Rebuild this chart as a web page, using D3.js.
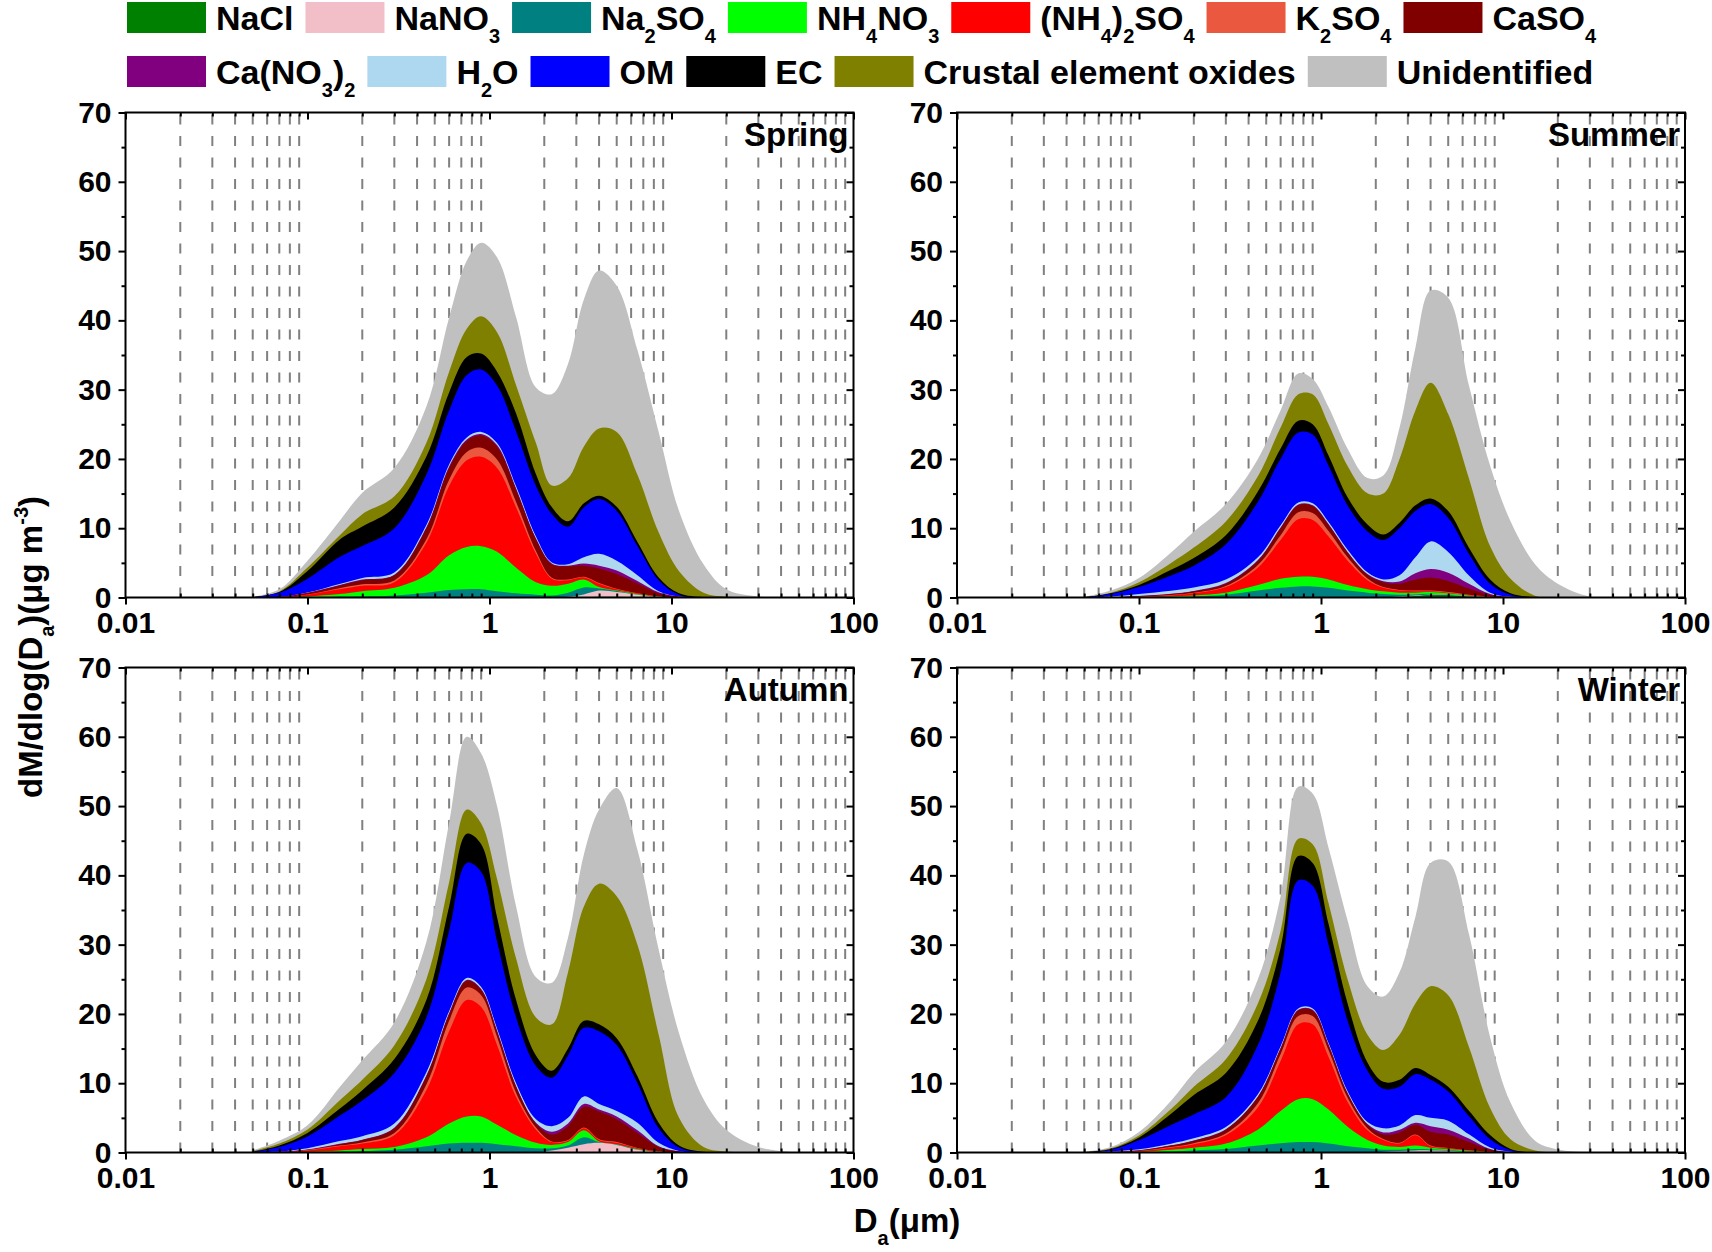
<!DOCTYPE html>
<html>
<head>
<meta charset="utf-8">
<script src="https://cdn.jsdelivr.net/npm/d3@7"></script>
<style>
  body { margin: 0; background: #fff; }
  svg { display: block; }
  text { font-family: "Liberation Sans", Arial, sans-serif; font-weight: bold; fill: #000; }
</style>
</head>
<body>
<svg id="chart" width="1712" height="1252"></svg>
<script>
// aerodynamic diameter (um) at which the stacked curves were read
const diam = [0.05, 0.07, 0.1, 0.15, 0.2, 0.3, 0.45, 0.6, 0.75, 0.9, 1.1, 1.4, 1.8, 2.2, 2.7, 3.3, 4.0, 5.0, 6.5, 8.5, 11, 15, 20, 30, 45];

// '_x' = subscript, '^x' = superscript
const species = ['NaCl', 'NaNO_3', 'Na_2SO_4', 'NH_4NO_3', '(NH_4)_2SO_4', 'K_2SO_4', 'CaSO_4',
                 'Ca(NO_3)_2', 'H_2O', 'OM', 'EC', 'Crustal element oxides', 'Unidentified'];
const colors = ['#008000', '#f2bfc8', '#008080', '#00ff00', '#ff0000', '#e9583f', '#800000',
                '#800080', '#add8f0', '#0000ff', '#000000', '#808000', '#c0c0c0'];

// dM/dlogDa (ug m-3) of each species, same order as `species`
const spring = [
  [0,0,0,0,0,0,0,0,0,0,0,0,0,0,0,0.05,0.1,0.1,0.05,0,0,0,0,0,0],
  [0,0,0,0,0,0,0,0,0,0,0,0,0,0,0.1,0.4,0.9,0.7,0.35,0.1,0,0,0,0,0],
  [0,0,0.02,0.1,0.15,0.3,0.7,1.1,1.2,1.2,0.9,0.6,0.4,0.3,0.6,1.0,0.3,0.15,0.05,0,0,0,0,0,0],
  [0,0.02,0.13,0.4,0.75,1.1,2.5,5.0,6.1,6.2,5.7,3.7,1.8,1.4,1.3,1.15,0.2,0.05,0.05,0,0,0,0,0,0],
  [0,0.03,0.25,0.7,0.8,0.8,4.7,10.0,12.5,12.9,12.1,8.7,4.1,1.0,0.5,0.3,0.5,0.2,0.1,0.05,0,0,0,0,0],
  [0,0.01,0.05,0.15,0.2,0.25,0.5,0.9,1.2,1.3,1.2,0.8,0.4,0.15,0.1,0.1,0.1,0.05,0.02,0,0,0,0,0,0],
  [0,0.02,0.2,0.4,0.6,0.75,1.6,1.7,1.6,1.8,1.9,1.8,1.7,1.95,1.9,1.6,2.1,2.15,1.4,0.45,0.1,0.02,0,0,0],
  [0,0,0.02,0.05,0.08,0.1,0.15,0.2,0.2,0.2,0.2,0.15,0.1,0.1,0.1,0.3,0.4,0.5,0.35,0.15,0.03,0,0,0,0],
  [0,0,0.05,0.15,0.25,0.3,0.3,0.3,0.3,0.3,0.3,0.3,0.3,0.15,0.2,0.9,1.7,1.4,0.85,0.15,0.02,0,0,0,0],
  [0.05,0.6,2.0,3.9,4.6,6.4,7.3,7.8,9.0,9.0,8.3,7.9,7.3,7.0,5.4,7.2,7.9,7.2,4.2,1.6,0.25,0.01,0,0,0],
  [0.01,0.1,1.1,2.5,2.8,3.0,2.6,2.6,2.6,2.3,2.0,2.6,1.7,1.0,0.8,0.6,0.5,0.6,0.6,0.4,0.2,0.02,0,0,0],
  [0,0.1,0.5,0.6,1.8,1.6,2.0,3.0,4.1,5.4,5.7,4.1,4.5,3.1,6.2,8.2,9.7,10.8,9.7,6.5,3.2,0.65,0.15,0,0],
  [0.04,0.3,1.0,2.1,3.1,4.1,5.2,7.8,9.8,10.6,10.8,9.8,8.0,13.2,16.5,21.2,22.8,21.1,18.0,14.5,8.7,4.1,1.05,0.15,0]
];
const summer = [
  [0,0,0,0,0,0,0,0,0,0,0,0,0,0,0.05,0.2,0.4,0.35,0.15,0.03,0,0,0,0,0],
  [0,0,0,0,0,0,0,0,0,0,0,0,0,0.05,0.1,0.1,0.05,0.03,0.02,0,0,0,0,0,0],
  [0,0,0.03,0.08,0.15,0.4,1.0,1.4,1.6,1.6,1.4,1.0,0.7,0.45,0.25,0.15,0.1,0.07,0.03,0,0,0,0,0,0],
  [0,0,0.02,0.07,0.15,0.3,0.8,1.3,1.4,1.4,1.2,0.8,0.5,0.4,0.3,0.25,0.25,0.15,0.1,0.02,0,0,0,0,0],
  [0,0.03,0.05,0.15,0.3,0.8,2.5,5.6,8.3,8.2,6.2,3.5,1.3,0.5,0.3,0.2,0.1,0.1,0.05,0.05,0,0,0,0,0],
  [0,0,0.02,0.05,0.08,0.15,0.4,0.7,1.0,1.0,0.8,0.5,0.25,0.1,0.1,0.1,0.1,0.08,0.04,0.01,0,0,0,0,0],
  [0,0.01,0.08,0.15,0.22,0.35,0.6,1.0,1.0,1.0,0.9,0.7,0.55,0.7,0.9,1.6,1.9,1.6,0.9,0.24,0.05,0,0,0,0],
  [0,0,0.02,0.04,0.05,0.08,0.1,0.12,0.12,0.12,0.1,0.08,0.08,0.15,0.3,0.9,1.2,1.2,0.7,0.15,0.02,0,0,0,0],
  [0.01,0.1,0.3,0.45,0.5,0.5,0.4,0.3,0.3,0.3,0.3,0.3,0.25,0.25,0.9,2.3,4.0,3.0,1.2,0.2,0.03,0,0,0,0],
  [0.02,0.36,0.98,2.2,3.15,5.1,8.0,9.6,10.1,9.9,8.1,6.4,5.9,5.7,6.8,6.7,5.4,4.9,3.1,1.3,0.3,0.03,0,0,0],
  [0.01,0.1,0.3,0.8,1.1,1.3,1.5,1.5,1.7,1.5,1.5,1.2,1.0,0.8,0.8,0.8,0.8,1.0,0.9,0.6,0.2,0.02,0,0,0],
  [0.01,0.1,0.4,1.0,1.5,2.0,2.2,3.0,3.8,4.3,4.5,4.5,4.5,5.9,9.2,13.7,16.7,14.0,10.0,4.8,2.1,0.2,0,0,0],
  [0.05,0.3,0.6,1.5,2.3,2.5,2.5,2.5,3.0,2.2,2.5,2.5,2.2,2.6,4.5,9.0,13.3,16.8,13.4,11.6,8.3,4.55,2.0,0.15,0]
];
const autumn = [
  [0,0,0,0,0,0,0,0,0,0,0,0,0,0,0,0.03,0.05,0.05,0.02,0,0,0,0,0,0],
  [0,0,0,0,0,0,0,0,0,0,0,0,0,0.3,0.7,1.17,1.35,1.05,0.38,0.1,0,0,0,0,0],
  [0,0,0.05,0.1,0.2,0.4,0.9,1.3,1.4,1.4,1.2,0.9,0.6,0.3,0.3,1.0,0.1,0.05,0.05,0,0,0,0,0,0],
  [0,0.02,0.05,0.2,0.3,0.4,1.3,2.9,3.8,3.8,2.8,1.6,0.8,0.5,0.5,1.0,0.1,0.05,0.05,0,0,0,0,0,0],
  [0,0.03,0.2,0.6,0.8,1.7,6.8,13.3,16.8,15.8,11.5,5.5,1.9,0.4,0.2,0.3,0.2,0.2,0.1,0.05,0,0,0,0,0],
  [0,0.01,0.05,0.1,0.15,0.3,0.8,1.5,1.8,1.7,1.2,0.6,0.3,0.1,0.1,0.1,0.1,0.1,0.05,0.02,0,0,0,0,0],
  [0.02,0.04,0.05,0.2,0.35,0.7,1.2,1.0,1.0,0.8,0.8,0.9,0.6,1.0,2.0,3.0,4.0,3.3,2.15,0.63,0.15,0,0,0,0],
  [0,0,0.02,0.05,0.05,0.08,0.1,0.1,0.1,0.1,0.1,0.1,0.1,0.4,0.4,0.4,0.3,0.4,0.4,0.1,0.02,0,0,0,0],
  [0,0.05,0.2,0.4,0.5,0.6,0.5,0.3,0.3,0.3,0.3,0.4,0.5,0.8,0.8,1.1,0.8,0.8,1.1,0.5,0.05,0,0,0,0],
  [0.06,0.65,1.7,3.65,5.15,7.3,7.9,11.6,16.6,16.6,12.6,9.5,7.7,7.0,9.0,9.9,10.5,9.5,5.7,2.1,0.5,0.05,0,0,0],
  [0.02,0.2,0.5,1.0,1.5,2.0,2.5,3.5,4.2,4.0,3.5,2.5,1.5,1.0,1.0,1.0,1.0,1.0,1.0,0.8,0.3,0.05,0,0,0],
  [0.1,0.3,0.5,1.2,1.5,2.0,3.0,3.5,3.5,3.0,5.5,6.0,5.5,6.7,11.0,16.5,20.3,20.5,19.0,12.7,4.0,0.7,0.15,0,0],
  [0.1,0.4,0.6,1.9,2.8,3.3,5.4,8.6,10.5,10.1,10.5,7.5,5.8,6.0,5.0,7.5,10.7,15.6,13.7,12.3,12.2,6.9,3.15,0.8,0.1]
];
const winter = [
  [0,0,0,0,0,0,0,0,0,0,0,0,0,0,0,0,0,0,0,0,0,0,0,0,0],
  [0,0,0,0,0,0,0,0,0,0,0,0,0,0.1,0.2,0.3,0.3,0.25,0.1,0.02,0,0,0,0,0],
  [0,0,0.05,0.15,0.3,0.5,1.0,1.35,1.5,1.5,1.3,0.9,0.6,0.3,0.2,0.2,0.15,0.1,0.05,0.01,0,0,0,0,0],
  [0,0.02,0.05,0.25,0.4,0.8,2.3,4.65,6.2,6.2,4.9,2.8,1.2,0.6,0.4,0.5,0.25,0.15,0.1,0.02,0,0,0,0,0],
  [0,0.03,0.1,0.3,0.5,1.2,3.2,7.2,10.8,10.8,7.6,3.6,1.4,0.8,0.5,1.5,0.2,0.1,0.05,0.05,0,0,0,0,0],
  [0,0.01,0.03,0.1,0.15,0.25,0.6,1.0,1.2,1.2,1.0,0.6,0.3,0.15,0.1,0.1,0.1,0.05,0.03,0.01,0,0,0,0,0],
  [0.01,0.04,0.07,0.2,0.35,0.55,0.9,0.8,0.8,0.8,0.7,0.6,0.5,0.65,1.5,1.4,2.0,1.95,1.2,0.3,0.05,0,0,0,0],
  [0,0,0.02,0.03,0.05,0.07,0.1,0.1,0.1,0.1,0.1,0.1,0.1,0.3,0.4,0.3,0.8,0.7,0.5,0.1,0.02,0,0,0,0],
  [0,0.05,0.15,0.25,0.3,0.3,0.3,0.25,0.2,0.2,0.2,0.25,0.3,0.6,0.6,1.1,1.2,1.3,0.6,0.2,0.03,0,0,0,0],
  [0.02,0.25,1.3,2.7,3.45,4.3,7.1,10.65,18.5,17.7,14.2,10.15,7.4,5.7,5.6,5.9,5.5,4.2,2.6,1.2,0.25,0,0,0,0],
  [0.01,0.1,0.4,1.6,2.8,3.5,3.5,3.5,3.5,3.3,3.0,2.5,1.2,1.0,1.0,0.9,0.7,0.7,0.8,0.6,0.15,0,0,0,0],
  [0.01,0.1,0.3,0.7,1.2,2.0,2.5,2.5,2.5,2.7,3.0,3.5,4.0,4.6,6.5,9.3,12.8,13.2,9.2,3.9,1.4,0.3,0.05,0,0],
  [0.05,0.2,0.5,1.2,2.0,2.5,3.5,5.0,7.5,7.3,8.0,8.5,7.0,7.7,9.0,12.5,17.8,19.3,16.3,10.2,5.3,1.4,0.4,0.05,0]
];

const seasonNames = ['Spring', 'Summer', 'Autumn', 'Winter'];
const seasonData = [spring, summer, autumn, winter];

const xMajor = [0.01, 0.1, 1, 10, 100];
const xTickLabels = ['0.01', '0.1', '1', '10', '100'];
const yMajor = [0, 10, 20, 30, 40, 50, 60, 70];
const yMinor = [5, 15, 25, 35, 45, 55, 65];

const svg = d3.select('#chart');
svg.append('rect').attr('width', 1712).attr('height', 1252).attr('fill', '#fff');

// writes a label with sub/superscripts into a <text>
function richText(text, label, smallSize, drop, rise) {
  const parts = label.split(/(_.|\^-?\d)/).filter(s => s.length);
  let shift = 0;
  parts.forEach(p => {
    let t = p, dy, small = false;
    if (p[0] === '_') { t = p.slice(1); dy = drop - shift; shift = drop; small = true; }
    else if (p[0] === '^') { t = p.slice(1); dy = -rise - shift; shift = -rise; small = true; }
    else { dy = -shift; shift = 0; }
    const ts = text.append('tspan').attr('dy', dy).text(t);
    if (small) ts.style('font-size', smallSize + 'px');
  });
}

// legend, two rows flowing left to right
const legendRows = [[0, 1, 2, 3, 4, 5, 6], [7, 8, 9, 10, 11, 12]];
const legendTop = [2, 56];
legendRows.forEach((row, r) => {
  let lx = 127;
  const top = legendTop[r];
  row.forEach(i => {
    svg.append('rect')
      .attr('x', lx).attr('y', top)
      .attr('width', 79).attr('height', 31)
      .attr('fill', colors[i]);
    const t = svg.append('text')
      .attr('x', lx + 89).attr('y', top + 28)
      .style('font-size', '34px');
    richText(t, species[i], 20, 13, 14);
    lx = lx + 89 + t.node().getComputedTextLength() + 12;
  });
});

const W = 728, H = 485;
const panelX = [125.5, 957];
const panelY = [112.5, 667.5];

const x = d3.scaleLog().domain([0.01, 100]).range([0, W]);
const y = d3.scaleLinear().domain([0, 70]).range([H, 0]);

const xMinor = [];
[0.01, 0.1, 1, 10].forEach(dec => {
  for (let m = 2; m <= 9; m++) xMinor.push(+(m * dec).toPrecision(3));
});

const keys = species.map((s, i) => 'k' + i);

svg.append('defs').append('clipPath').attr('id', 'plotClip')
  .append('rect').attr('width', W).attr('height', H);

seasonData.forEach((data, si) => {
  const g = svg.append('g')
    .attr('transform', `translate(${panelX[si % 2]},${panelY[Math.floor(si / 2)]})`);

  // dashed grid at minor decades
  g.selectAll('.grid')
    .data(xMinor)
    .enter().append('line')
      .attr('x1', d => x(d)).attr('x2', d => x(d))
      .attr('y1', H).attr('y2', 0)
      .attr('stroke', '#808080')
      .attr('stroke-width', 2)
      .attr('stroke-dasharray', '10,11.5');

  const rows = diam.map((d, i) => {
    const o = { d: d };
    keys.forEach((k, j) => { o[k] = data[j][i]; });
    return o;
  });
  const stacked = d3.stack().keys(keys)(rows);

  // each layer filled from zero to its cumulative top, painted top-down
  const area = d3.area()
    .x(d => x(d.data.d))
    .y0(y(0))
    .y1(d => y(d[1]))
    .curve(d3.curveCatmullRom.alpha(0.5));

  g.append('g').attr('clip-path', 'url(#plotClip)')
    .selectAll('.layer')
    .data(stacked.slice().reverse())
    .enter().append('path')
      .attr('class', 'layer')
      .attr('d', area)
      .attr('fill', d => colors[d.index]);

  // axes
  const fmt = d => xTickLabels[xMajor.indexOf(d)];
  const styleAxis = sel => {
    sel.select('.domain').remove();
    sel.selectAll('line').attr('stroke', '#000').attr('stroke-width', 2);
    sel.selectAll('text').style('font-size', '30px').attr('fill', '#000');
  };

  g.append('g').attr('transform', `translate(0,${H})`)
    .call(d3.axisBottom(x).tickValues(xMajor).tickFormat(fmt).tickSize(7).tickPadding(7))
    .call(styleAxis);
  g.append('g').attr('transform', `translate(0,${H})`)
    .call(d3.axisBottom(x).tickValues(xMinor).tickFormat('').tickSize(-4))
    .call(styleAxis);
  g.append('g')
    .call(d3.axisTop(x).tickValues(xMajor).tickFormat('').tickSize(-7))
    .call(styleAxis);
  g.append('g')
    .call(d3.axisTop(x).tickValues(xMinor).tickFormat('').tickSize(-4))
    .call(styleAxis);

  g.append('g')
    .call(d3.axisLeft(y).tickValues(yMajor).tickFormat(d3.format('d')).tickSize(7).tickPadding(7))
    .call(styleAxis);
  g.append('g')
    .call(d3.axisLeft(y).tickValues(yMinor).tickFormat('').tickSize(4))
    .call(styleAxis);
  g.append('g').attr('transform', `translate(${W},0)`)
    .call(d3.axisRight(y).tickValues(yMajor).tickFormat('').tickSize(-7))
    .call(styleAxis);
  g.append('g').attr('transform', `translate(${W},0)`)
    .call(d3.axisRight(y).tickValues(yMinor).tickFormat('').tickSize(-4))
    .call(styleAxis);

  g.append('rect')
    .attr('width', W).attr('height', H)
    .attr('fill', 'none')
    .attr('stroke', '#000')
    .attr('stroke-width', 2);

  g.append('text')
    .attr('x', W - 5).attr('y', 33)
    .attr('text-anchor', 'end')
    .style('font-size', '33px')
    .text(seasonNames[si]);
});

// axis titles
const yTitle = svg.append('text')
  .attr('transform', 'translate(42,647) rotate(-90)')
  .attr('text-anchor', 'middle')
  .style('font-size', '33px');
richText(yTitle, 'dM/dlog(D_a)(\u03bcg m^-3)', 20, 12, 14);

const xTitle = svg.append('text')
  .attr('x', 907).attr('y', 1232)
  .attr('text-anchor', 'middle')
  .style('font-size', '33px');
richText(xTitle, 'D_a(\u03bcm)', 20, 13, 14);
</script>
</body>
</html>
